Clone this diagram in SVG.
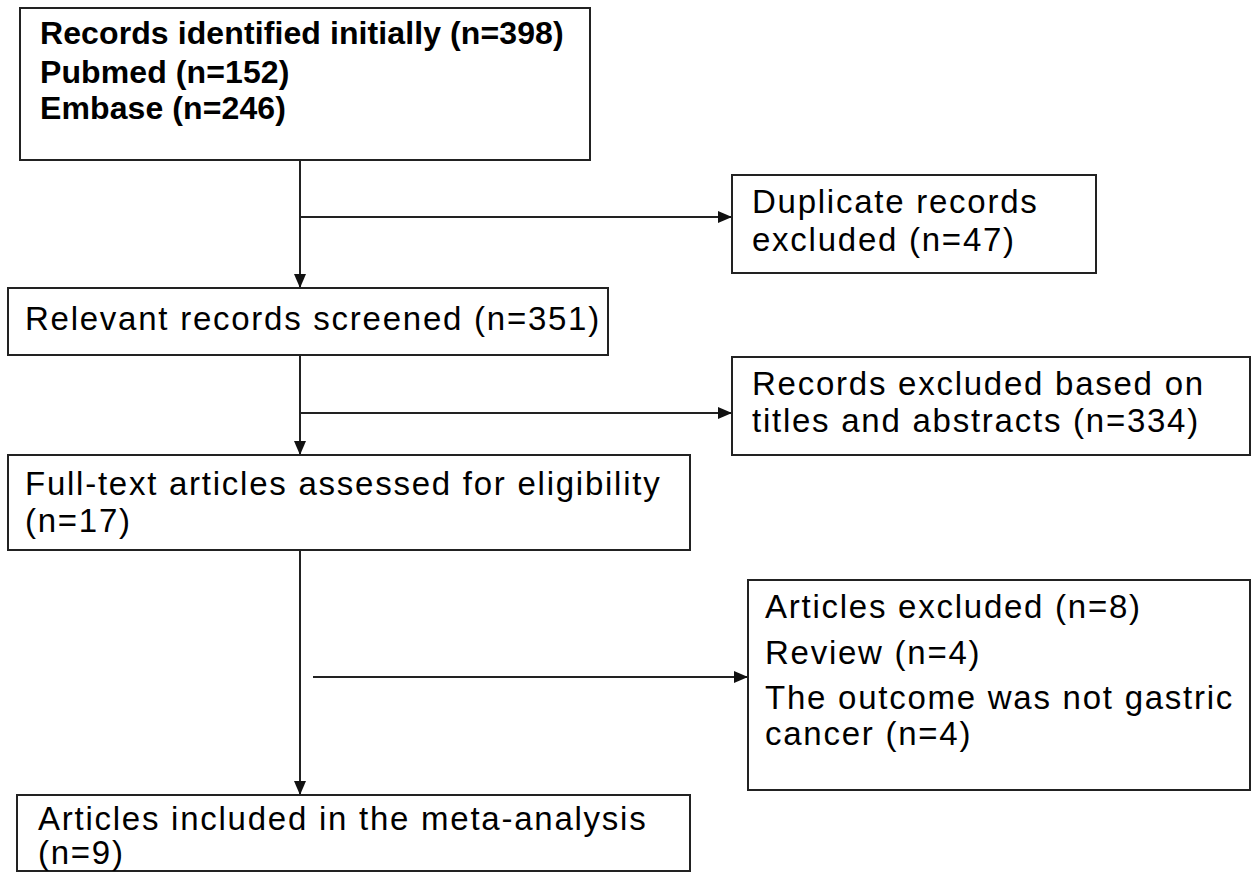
<svg xmlns="http://www.w3.org/2000/svg" width="1252" height="872" viewBox="0 0 1252 872">
<style>
.box{fill:#fff;stroke:#222;stroke-width:2}
.t{font-family:"Liberation Sans",Arial,sans-serif;font-size:33px;letter-spacing:1.75px;fill:#000}
.b{font-family:"Liberation Sans",Arial,sans-serif;font-size:32px;letter-spacing:0.1px;font-weight:bold;fill:#000}
.c{stroke:#222;stroke-width:2;fill:none}
</style>
<defs>
<marker id="ah" markerWidth="14" markerHeight="12" refX="14" refY="6" orient="auto" markerUnits="userSpaceOnUse">
<path d="M0,0 L14,6 L0,12 Z" fill="#111"/>
</marker>
</defs>
<rect width="1252" height="872" fill="#fff"/>
<g id="connectors">
<line class="c" x1="300" y1="160" x2="300" y2="288" marker-end="url(#ah)"/>
<line class="c" x1="300" y1="217" x2="732" y2="217" marker-end="url(#ah)"/>
<line class="c" x1="300" y1="355" x2="300" y2="455" marker-end="url(#ah)"/>
<line class="c" x1="300" y1="413" x2="732" y2="413" marker-end="url(#ah)"/>
<line class="c" x1="300" y1="550" x2="300" y2="795" marker-end="url(#ah)"/>
<line class="c" x1="313" y1="677" x2="748" y2="677" marker-end="url(#ah)"/>
</g>
<g id="n1">
<rect class="box" x="20" y="8" width="570" height="152"/>
<text class="b" x="40" y="44">Records identified initially (n=398)</text>
<text class="b" x="40" y="83">Pubmed (n=152)</text>
<text class="b" x="40" y="119">Embase (n=246)</text>
</g>
<g id="n2">
<rect class="box" x="732" y="175" width="364" height="98"/>
<text class="t" x="752" y="213">Duplicate records</text>
<text class="t" x="752" y="251">excluded (n=47)</text>
</g>
<g id="n3">
<rect class="box" x="8" y="288" width="600" height="67"/>
<text class="t" x="25" y="330">Relevant records screened (n=351)</text>
</g>
<g id="n4">
<rect class="box" x="732" y="357" width="518" height="98"/>
<text class="t" x="752" y="395">Records excluded based on</text>
<text class="t" x="752" y="432">titles and abstracts (n=334)</text>
</g>
<g id="n5">
<rect class="box" x="8" y="455" width="682" height="95"/>
<text class="t" x="25" y="495">Full-text articles assessed for eligibility</text>
<text class="t" x="25" y="532">(n=17)</text>
</g>
<g id="n6">
<rect class="box" x="748" y="580" width="502" height="210"/>
<text class="t" x="765" y="618">Articles excluded (n=8)</text>
<text class="t" x="765" y="664">Review (n=4)</text>
<text class="t" x="765" y="709">The outcome was not gastric</text>
<text class="t" x="765" y="745">cancer (n=4)</text>
</g>
<g id="n7">
<rect class="box" x="17" y="795" width="673" height="76"/>
<text class="t" x="38" y="830">Articles included in the meta-analysis</text>
<text class="t" x="38" y="864">(n=9)</text>
</g>
</svg>
